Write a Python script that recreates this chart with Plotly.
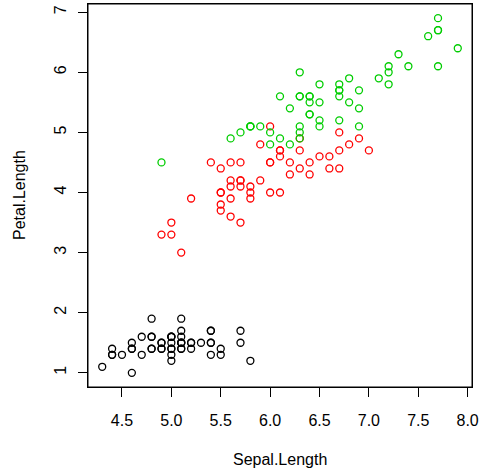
import plotly.graph_objects as go

setosa_sepal = [5.1,4.9,4.7,4.6,5.0,5.4,4.6,5.0,4.4,4.9,5.4,4.8,4.8,4.3,5.8,5.7,5.4,5.1,5.7,5.1,
                5.4,5.1,4.6,5.1,4.8,5.0,5.0,5.2,5.2,4.7,4.8,5.4,5.2,5.5,4.9,5.0,5.5,4.9,4.4,5.1,
                5.0,4.5,4.4,5.0,5.1,4.8,5.1,4.6,5.3,5.0]
setosa_petal = [1.4,1.4,1.3,1.5,1.4,1.7,1.4,1.5,1.4,1.5,1.5,1.6,1.4,1.1,1.2,1.5,1.3,1.4,1.7,1.5,
                1.7,1.5,1.0,1.7,1.9,1.6,1.6,1.5,1.4,1.6,1.6,1.5,1.5,1.4,1.5,1.2,1.3,1.4,1.3,1.5,
                1.3,1.3,1.3,1.6,1.9,1.4,1.6,1.4,1.5,1.4]
versicolor_sepal = [7.0,6.4,6.9,5.5,6.5,5.7,6.3,4.9,6.6,5.2,5.0,5.9,6.0,6.1,5.6,6.7,5.6,5.8,6.2,5.6,
                    5.9,6.1,6.3,6.1,6.4,6.6,6.8,6.7,6.0,5.7,5.5,5.5,5.8,6.0,5.4,6.0,6.7,6.3,5.6,5.5,
                    5.5,6.1,5.8,5.0,5.6,5.7,5.7,6.2,5.1,5.7]
versicolor_petal = [4.7,4.5,4.9,4.0,4.6,4.5,4.7,3.3,4.6,3.9,3.5,4.2,4.0,4.7,3.6,4.4,4.5,4.1,4.5,3.9,
                    4.8,4.0,4.9,4.7,4.3,4.4,4.8,5.0,4.5,3.5,3.8,3.7,3.9,5.1,4.5,4.5,4.7,4.4,4.1,4.0,
                    4.4,4.6,4.0,3.3,4.2,4.2,4.2,4.3,3.0,4.1]
virginica_sepal = [6.3,5.8,7.1,6.3,6.5,7.6,4.9,7.3,6.7,7.2,6.5,6.4,6.8,5.7,5.8,6.4,6.5,7.7,7.7,6.0,
                   6.9,5.6,7.7,6.3,6.7,7.2,6.2,6.1,6.4,7.2,7.4,7.9,6.4,6.3,6.1,7.7,6.3,6.4,6.0,6.9,
                   6.7,6.9,5.8,6.8,6.7,6.7,6.3,6.5,6.2,5.9]
virginica_petal = [6.0,5.1,5.9,5.6,5.8,6.6,4.5,6.3,5.8,6.1,5.1,5.3,5.5,5.0,5.1,5.3,5.5,6.7,6.9,5.0,
                   5.7,4.9,6.7,4.9,5.7,6.0,4.8,4.9,5.6,5.8,6.1,6.4,5.6,5.1,5.6,6.1,5.6,5.5,4.8,5.4,
                   5.6,5.1,5.1,5.9,5.7,5.2,5.0,5.2,5.4,5.1]

x_ticks = [4.5, 5.0, 5.5, 6.0, 6.5, 7.0, 7.5, 8.0]
x_tick_labels = ["4.5", "5.0", "5.5", "6.0", "6.5", "7.0", "7.5", "8.0"]
y_ticks = [1, 2, 3, 4, 5, 6, 7]
y_tick_labels = ["1", "2", "3", "4", "5", "6", "7"]

series = [
    (setosa_sepal, setosa_petal, "black"),
    (versicolor_sepal, versicolor_petal, "#FF0000"),
    (virginica_sepal, virginica_petal, "#00CD00"),
]

fig = go.Figure()
for xs, ys, col in series:
    fig.add_trace(go.Scatter(
        x=xs, y=ys, mode="markers",
        marker=dict(symbol="circle-open", size=7, color=col, line=dict(width=1.3, color=col)),
        showlegend=False, hoverinfo="skip",
    ))

font = dict(family="Liberation Sans, Arial, sans-serif", size=16, color="black")

axis_common = dict(
    showgrid=False, zeroline=False, showline=True, mirror=True,
    linecolor="black", linewidth=1, ticks="outside", ticklen=9, tickcolor="black",
    tickwidth=1, automargin=False,
)

fig.update_layout(
    width=482, height=475,
    margin=dict(l=88, r=10, t=4, b=88),
    paper_bgcolor="white", plot_bgcolor="white",
    font=font,
    xaxis=dict(range=[4.156, 8.044], tickvals=x_ticks, ticktext=x_tick_labels,
               ticklabelstandoff=10, **axis_common),
    yaxis=dict(range=[0.764, 7.136], tickvals=y_ticks, ticktext=y_tick_labels,
               tickangle=-90, ticklabelstandoff=6, **axis_common),
    shapes=[dict(type="rect", xref="paper", yref="paper", x0=0, y0=0, x1=1, y1=1,
                 line=dict(color="black", width=1), layer="above")],
    annotations=[
        dict(text="Sepal.Length", xref="paper", yref="paper", x=0.5, y=0,
             yshift=-62, yanchor="top", showarrow=False, font=font),
        dict(text="Petal.Length", xref="paper", yref="paper", x=0, y=0.5,
             xshift=-79, xanchor="left", textangle=-90, showarrow=False, font=font),
    ],
)

fig.write_html("out.html", config={"displayModeBar": False},
               post_script="document.body.style.margin='0';document.body.style.padding='0';")
